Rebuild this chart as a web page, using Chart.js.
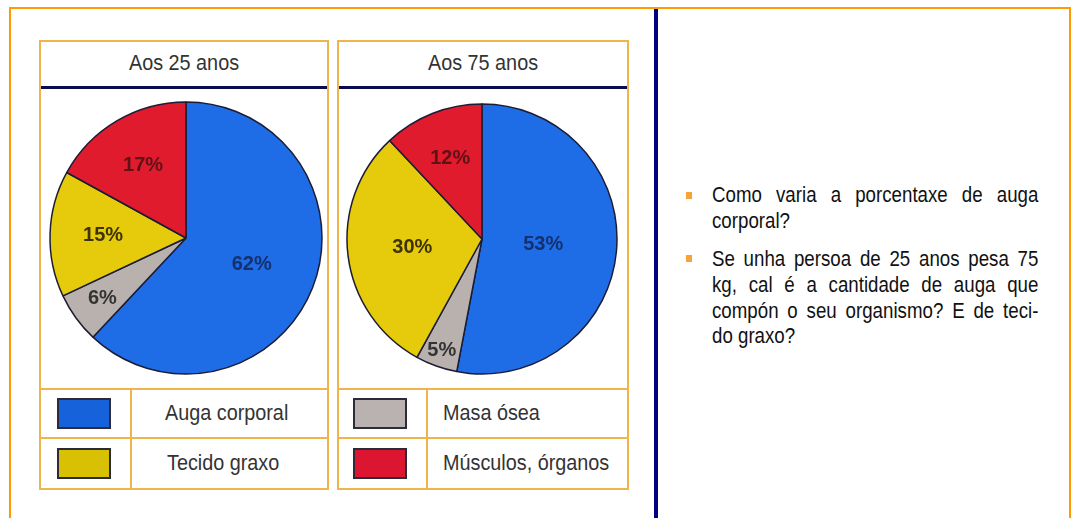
<!DOCTYPE html>
<html>
<head>
<meta charset="utf-8">
<script src="https://cdn.jsdelivr.net/npm/chart.js@4/dist/chart.umd.min.js"></script>
<style>
  html, body { margin: 0; padding: 0; background: #fff; }
  #root { position: relative; width: 1071px; height: 518px; overflow: hidden; background: #fff; font-family: "Liberation Sans", Arial, sans-serif; }
  .abs { position: absolute; }
  .panel { position: absolute; box-sizing: border-box; border: 2px solid #efb44c; }
  .hline { position: absolute; height: 2px; background: #efb44c; }
  .vline { position: absolute; width: 2px; background: #efb44c; }
  .title { position: absolute; font-size: 22px; line-height: 22px; color: #333; text-align: center; transform: scaleX(0.9); transform-origin: center top; white-space: nowrap; }
  .legtxt { position: absolute; font-size: 22px; line-height: 22px; color: #333; transform: scaleX(0.9); transform-origin: left top; white-space: nowrap; }
  .sw { position: absolute; box-sizing: border-box; border: 2px solid #2b2b3a; width: 54px; height: 31px; }
  .line { position: absolute; left: 712px; width: 384px; font-size: 22px; line-height: 22px; color: #111; transform: scaleX(0.85); transform-origin: left top; white-space: nowrap; }
  .just { text-align: justify; text-align-last: justify; white-space: normal; }
  .bullet { position: absolute; width: 6px; height: 7px; background: #f7a33a; }
  canvas { position: absolute; }
</style>
</head>
<body>
<div id="root">
  <div class="abs" style="left:9px;top:7px;width:1062px;height:600px;box-sizing:border-box;border:2px solid #ff9a00;"></div>
  <div class="abs" style="left:654px;top:9px;width:4px;height:520px;background:#000080;"></div>

  <div class="panel" style="left:39px;top:40px;width:290px;height:450px;"></div>
  <div class="panel" style="left:337px;top:40px;width:292px;height:450px;"></div>
  <div class="abs" style="left:41px;top:86px;width:286px;height:3px;background:#0b0b50;"></div>
  <div class="abs" style="left:339px;top:86px;width:288px;height:3px;background:#0b0b50;"></div>

  <div class="hline" style="left:41px;top:388px;width:286px;"></div>
  <div class="hline" style="left:41px;top:437px;width:286px;"></div>
  <div class="vline" style="left:130px;top:388px;height:100px;"></div>
  <div class="hline" style="left:339px;top:388px;width:288px;"></div>
  <div class="hline" style="left:339px;top:437px;width:288px;"></div>
  <div class="vline" style="left:426px;top:388px;height:100px;"></div>

  <div id="t1" class="title" style="left:41px;top:52px;width:286px;"></div>
  <div id="t2" class="title" style="left:339px;top:52px;width:288px;"></div>

  <div id="legend"></div>

  <canvas id="c1" width="290" height="290" style="left:41px;top:93px;"></canvas>
  <canvas id="c2" width="290" height="290" style="left:337px;top:94px;"></canvas>

  <div class="bullet" style="left:686px;top:192px;"></div>
  <div class="bullet" style="left:686px;top:255px;"></div>
  <div id="text"></div>
</div>
<script>
// ---- data ----
const categories = ['Auga corporal', 'Masa ósea', 'Tecido graxo', 'Músculos, órganos'];
const values25 = [62, 6, 15, 17];
const values75 = [53, 5, 30, 12];
const chartTitles = ['Aos 25 anos', 'Aos 75 anos'];
const question1 = ['Como varia a porcentaxe de auga', 'corporal?'];
const question2 = ['Se unha persoa de 25 anos pesa 75', 'kg, cal é a cantidade de auga que', 'compón o seu organismo? E de teci-', 'do graxo?'];

// ---- styles ----
const sliceColors = ['#1e6de6', '#b9b1ae', '#e6cb0c', '#e01b2e'];
const swatchColors = ['#1662da', '#bab2b0', '#d8c102', '#dc1630'];
const labelColors = ['#15306e', '#333333', '#3d3300', '#5e1216'];
const labelRadius25 = [0.52, 0.76, 0.61, 0.62];
const labelRadius75 = [0.455, 0.88, 0.52, 0.64];

document.getElementById('t1').textContent = chartTitles[0];
document.getElementById('t2').textContent = chartTitles[1];

// legend: left table holds items 0 and 2, right table holds items 1 and 3
const legendSpots = [
  {i: 0, sx: 57, sy: 398, tx: 165, ty: 402},
  {i: 2, sx: 57, sy: 448, tx: 167, ty: 452},
  {i: 1, sx: 353, sy: 398, tx: 443, ty: 402},
  {i: 3, sx: 353, sy: 448, tx: 443, ty: 452}
];
const leg = document.getElementById('legend');
legendSpots.forEach(s => {
  const sw = document.createElement('div');
  sw.className = 'sw';
  sw.style.left = s.sx + 'px'; sw.style.top = s.sy + 'px';
  sw.style.background = swatchColors[s.i];
  leg.appendChild(sw);
  const t = document.createElement('div');
  t.className = 'legtxt';
  t.style.left = s.tx + 'px'; t.style.top = s.ty + 'px';
  t.textContent = categories[s.i];
  leg.appendChild(t);
});

// right-hand text, justified lines
const tops = [[184, 210], [248, 274, 300, 325]];
const txt = document.getElementById('text');
[question1, question2].forEach((para, p) => {
  para.forEach((ln, k) => {
    const d = document.createElement('div');
    d.className = 'line' + (k < para.length - 1 ? ' just' : '');
    d.style.top = tops[p][k] + 'px';
    d.textContent = ln;
    txt.appendChild(d);
  });
});

const labelPlugin = {
  id: 'sliceLabels',
  afterDatasetsDraw(chart) {
    const ctx = chart.ctx;
    const meta = chart.getDatasetMeta(0);
    const data = chart.data.datasets[0].data;
    const fr = chart.options.plugins.sliceLabels.radius;
    ctx.save();
    ctx.font = 'bold 20px "Liberation Sans", Arial, sans-serif';
    ctx.textAlign = 'center';
    ctx.textBaseline = 'middle';
    meta.data.forEach((arc, i) => {
      const p = arc.getProps(['x', 'y', 'startAngle', 'endAngle', 'outerRadius'], true);
      const mid = (p.startAngle + p.endAngle) / 2;
      const r = p.outerRadius * fr[i];
      ctx.fillStyle = labelColors[i];
      ctx.fillText(data[i] + '%', p.x + Math.cos(mid) * r, p.y + Math.sin(mid) * r);
    });
    ctx.restore();
  }
};

function makePie(id, values, radius, fr) {
  return new Chart(document.getElementById(id), {
    type: 'pie',
    data: {
      labels: categories,
      datasets: [{
        data: values,
        backgroundColor: sliceColors,
        borderColor: '#1c1c34',
        borderWidth: 1.5,
        hoverOffset: 0,
        offset: 0
      }]
    },
    options: {
      responsive: false,
      animation: false,
      devicePixelRatio: 1,
      radius: radius,
      layout: { padding: 0 },
      events: [],
      plugins: {
        legend: { display: false },
        tooltip: { enabled: false },
        sliceLabels: { radius: fr }
      }
    },
    plugins: [labelPlugin]
  });
}
makePie('c1', values25, 136, labelRadius25);
makePie('c2', values75, 135, labelRadius75);
</script>
</body>
</html>
